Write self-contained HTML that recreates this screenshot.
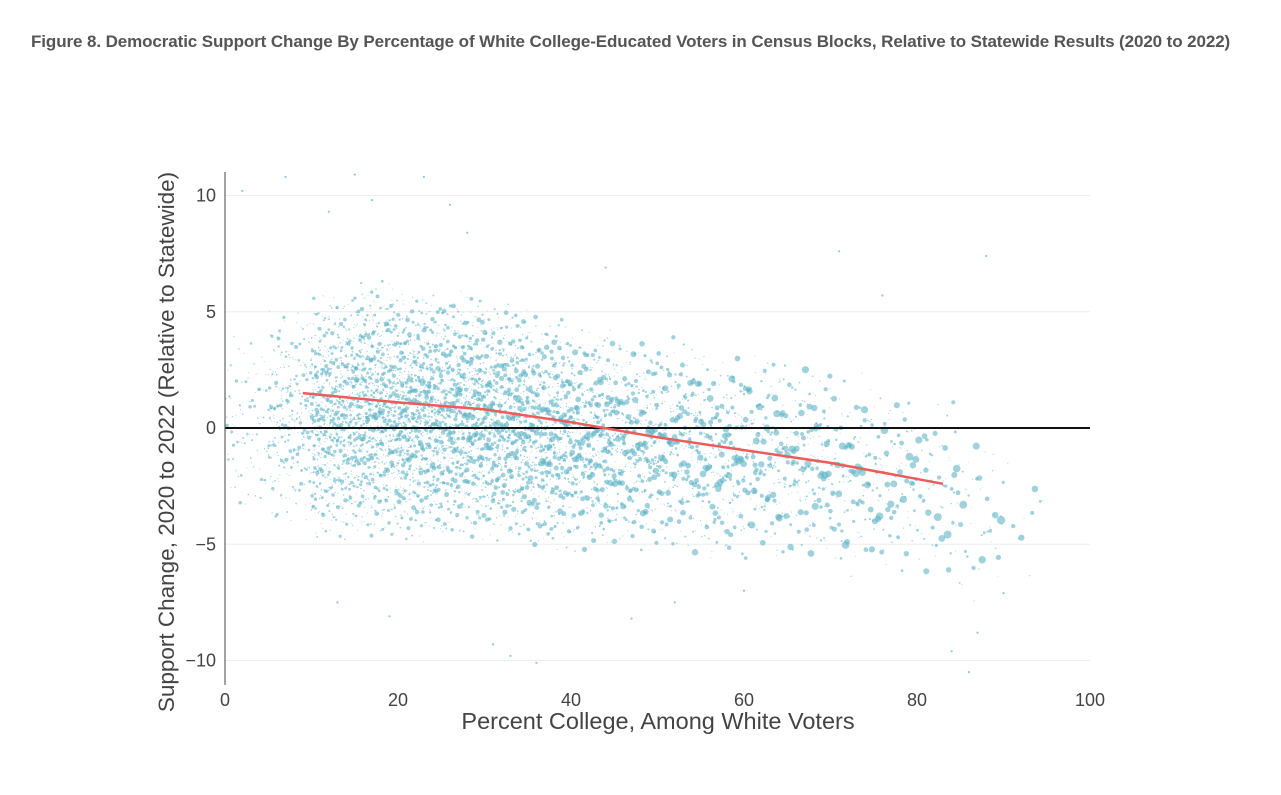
<!DOCTYPE html>
<html><head><meta charset="utf-8">
<style>
body{margin:0;background:#fff;width:1281px;height:795px;overflow:hidden;font-family:"Liberation Sans",sans-serif;}
#title{position:absolute;left:31px;top:32px;font-size:17px;font-weight:bold;color:#555;letter-spacing:-0.1px;white-space:nowrap;}
</style></head>
<body>
<div id="title">Figure 8. Democratic Support Change By Percentage of White College-Educated Voters in Census Blocks, Relative to Statewide Results (2020 to 2022)</div>
<svg id="chart" width="1281" height="795" style="position:absolute;left:0;top:0"></svg>
<script>
// x-bin data (5-unit bins): bin start, core y-range, approximate point counts
const binStart=[0,5,10,15,20,25,30,35,40,45,50,55,60,65,70,75,80,85,90];
const binYLow=[-4,-4.5,-5,-5,-5,-5,-5,-5.5,-5.5,-5.5,-5.5,-6,-6,-6,-6.5,-6.5,-7,-8,-7];
const binYHigh=[4.5,5.5,6,6.5,6,6,5.5,5,4.5,4,4,3.5,3.5,3,2.5,2,1.5,0.5,-1];
const binCount=[90,280,750,850,850,800,720,600,480,380,300,250,200,170,130,100,70,40,10];
const outX=[2,7,12,15,17,23,26,28,33,36,47,52,71,76,84,86,87,88,90,44,60,13,31,19];
const outY=[10.2,10.8,9.3,10.9,9.8,10.8,9.6,8.4,-9.8,-10.1,-8.2,-7.5,7.6,5.7,-9.6,-10.5,-8.8,7.4,-7.1,6.9,-7.0,-7.5,-9.3,-8.1];
const trendX=[9,20,30,40,50,60,70,83];
const trendY=[1.5,1.1,0.8,0.25,-0.4,-0.95,-1.5,-2.4];
const xTicks=[0,20,40,60,80,100];
const yTicks=[-10,-5,0,5,10];

const NS="http://www.w3.org/2000/svg";
const svg=document.getElementById('chart');
const X=v=>225+v*8.65;
const Y=v=>428-v*23.25;
function mk(t,a){const e=document.createElementNS(NS,t);for(const k in a)e.setAttribute(k,a[k]);svg.appendChild(e);return e;}
function halton(i,b){let f=1,r=0;while(i>0){f/=b;r+=f*(i%b);i=Math.floor(i/b);}return r;}

yTicks.forEach(t=>{
  const g=mk('line',{x1:225,x2:1090,y1:Y(t),y2:Y(t),stroke:'#eee','stroke-width':1});
  
  
  const l=mk('text',{x:216,y:Y(t)+6,'text-anchor':'end','font-size':18,fill:'#444'});
  l.textContent=t<0?'\u2212'+Math.abs(t):t;
  
  
});
xTicks.forEach(t=>{
  const l=mk('text',{x:X(t),y:706,'text-anchor':'middle','font-size':18,fill:'#444'});
  l.textContent=t;
  
  
});

const g=mk('g',{});


let idx=0;
binStart.forEach((b,i)=>{
  const lo=binYLow[i],hi=binYHigh[i],n=binCount[i];
  for(let k=0;k<n;k++){
    idx++;
    const u=halton(idx,2),v=halton(idx,3),w=halton(idx,5),s=halton(idx,7);
    const xv=b+u*5;
    const tri=(v+w)/2;
    const yv=lo+(hi-lo)*tri;
    const r=0.5+s*s*s*(1.4+i*0.14);
    const c=document.createElementNS(NS,'circle');
    c.setAttribute('cx',X(xv));c.setAttribute('cy',Y(yv));c.setAttribute('r',r);
    c.setAttribute('fill','rgb(95,180,198)');c.setAttribute('fill-opacity',0.6);
    
    
    g.appendChild(c);
  }
});
outX.forEach((xv,i)=>{
  const c=mk('circle',{cx:X(xv),cy:Y(outY[i]),r:1.1,fill:'rgb(95,180,198)','fill-opacity':0.7});
  
  
});

const zl=mk('line',{x1:225,x2:1090,y1:Y(0),y2:Y(0),stroke:'#111','stroke-width':2});


const ax=mk('line',{x1:225,x2:225,y1:172,y2:685,stroke:'#444','stroke-width':1});



const tl=mk('polyline',{points:trendX.map((x,i)=>X(x)+','+Y(trendY[i])).join(' '),fill:'none',stroke:'#ef5a5a','stroke-width':2.5});



const xt=mk('text',{x:658,y:729,'text-anchor':'middle','font-size':23.5,fill:'#444'});
xt.textContent='Percent College, Among White Voters';


const yt=mk('text',{x:0,y:0,'text-anchor':'middle','font-size':22.5,fill:'#444',transform:'translate(174,442) rotate(-90)'});
yt.textContent='Support Change, 2020 to 2022 (Relative to Statewide)';


</script>
</body></html>
